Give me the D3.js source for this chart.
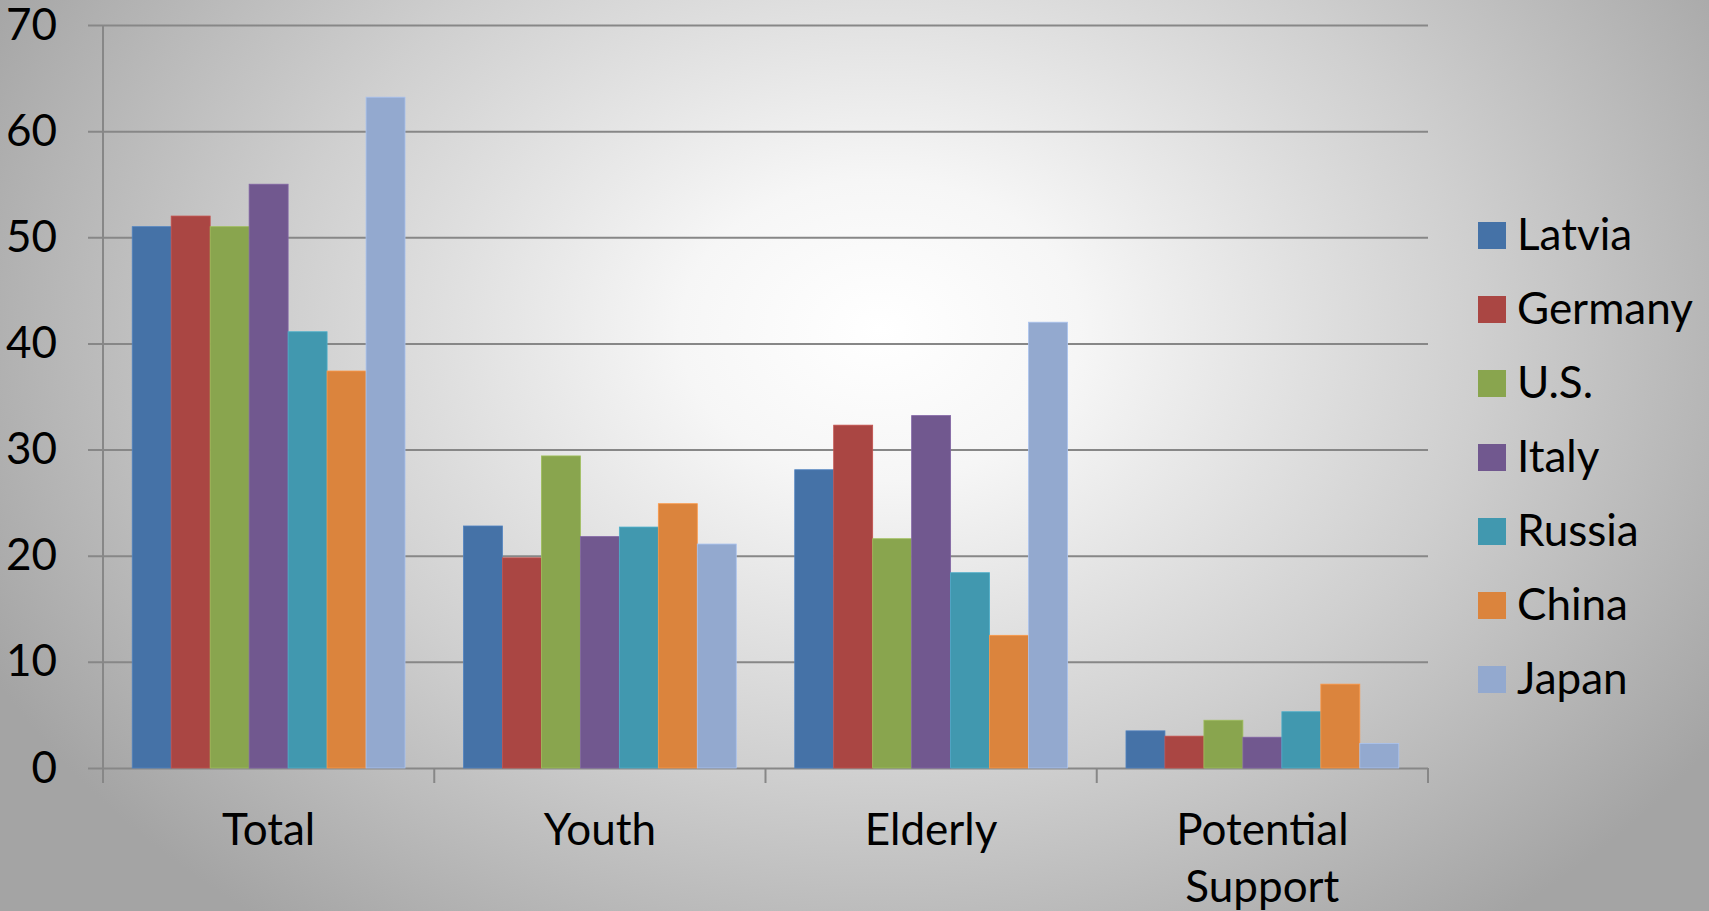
<!DOCTYPE html>
<html>
<head>
<meta charset="utf-8">
<script src="https://cdn.jsdelivr.net/npm/d3@7"></script>
<style>
  html, body { margin: 0; padding: 0; overflow: hidden; }
  text { font-family: Lato, "Open Sans", sans-serif; fill: #000; }
</style>
</head>
<body>
<div id="CHART"></div>
<script>
// values
var categories = ["Total", "Youth", "Elderly", "Potential Support"];
var countries = ["Latvia", "Germany", "U.S.", "Italy", "Russia", "China", "Japan"];
var latvia  = [51.0, 22.8, 28.1, 3.5];
var germany = [52.0, 19.8, 32.3, 3.0];
var us      = [51.0, 29.4, 21.6, 4.5];
var italy   = [55.0, 21.8, 33.2, 2.9];
var russia  = [41.1, 22.7, 18.4, 5.3];
var china   = [37.4, 24.9, 12.5, 7.9];
var japan   = [63.2, 21.1, 42.0, 2.3];
var yTicks  = [0, 10, 20, 30, 40, 50, 60, 70];

var series = [latvia, germany, us, italy, russia, china, japan];
var colors = ["#4572A7", "#AA4643", "#89A54E", "#71588F", "#4198AF", "#DB843D", "#93A9CF"];

var WIDTH = 1709, HEIGHT = 911;
var MARGIN = {LEFT: 103, RIGHT: 281, TOP: 25, BOTTOM: 143};

var svg = d3.select("#CHART")
    .append("svg")
    .attr("width", WIDTH)
    .attr("height", HEIGHT);

// background: soft radial glow, grey towards the edges
var defs = svg.append("defs");
var grad = defs.append("radialGradient")
    .attr("id", "bg")
    .attr("gradientUnits", "userSpaceOnUse")
    .attr("cx", 880).attr("cy", 330).attr("r", 1000)
    .attr("gradientTransform", "translate(880,330) scale(1,0.75) translate(-880,-330)");
grad.append("stop").attr("offset", "0").attr("stop-color", "#ffffff");
grad.append("stop").attr("offset", "0.2").attr("stop-color", "#f6f6f6");
grad.append("stop").attr("offset", "0.6").attr("stop-color", "#cfcfcf");
grad.append("stop").attr("offset", "1").attr("stop-color", "#a4a4a4");

svg.append("rect")
    .attr("width", WIDTH)
    .attr("height", HEIGHT)
    .attr("fill", "url(#bg)");

var plotW = WIDTH - MARGIN.LEFT - MARGIN.RIGHT;
var plotH = HEIGHT - MARGIN.TOP - MARGIN.BOTTOM;

var x0 = d3.scaleBand()
    .domain(categories)
    .range([MARGIN.LEFT, MARGIN.LEFT + plotW]);

var x1 = d3.scaleBand()
    .domain(countries)
    .range([0, x0.bandwidth()])
    .paddingInner(0)
    .paddingOuter(0.75);

var y = d3.scaleLinear()
    .domain([0, 70])
    .range([MARGIN.TOP + plotH, MARGIN.TOP]);

var axisColor = "#878787";

// gridlines + y labels (ticks reach 15px left of the axis)
var yAxis = svg.append("g")
    .attr("transform", "translate(" + (MARGIN.LEFT + plotW) + ",0)")
    .call(d3.axisLeft(y).tickValues(yTicks).tickSize(plotW + 15).tickPadding(31));
yAxis.select(".domain").remove();
yAxis.selectAll("line").attr("stroke", axisColor).attr("stroke-width", 2);
yAxis.selectAll("text")
    .style("font-family", "Lato, sans-serif")
    .style("font-size", "44px")
    .attr("fill", "#000");

// bars
var groups = svg.selectAll("g.cat")
    .data(categories)
    .enter()
    .append("g")
    .attr("class", "cat")
    .attr("transform", function(d) { return "translate(" + x0(d) + ",0)"; });

groups.selectAll("rect")
    .data(function(d, i) {
        return countries.map(function(c, j) { return {country: c, value: series[j][i], color: colors[j]}; });
    })
    .enter()
    .append("rect")
    .attr("x", function(d) { return x1(d.country); })
    .attr("y", function(d) { return y(d.value); })
    .attr("width", x1.bandwidth())
    .attr("height", function(d) { return y(0) - y(d.value); })
    .attr("fill", function(d) { return d.color; })
    .attr("stroke", function(d) { return d3.color(d.color).brighter(0.4); })
    .attr("stroke-width", 0.8);

// y axis line, running down to the x tick length
svg.append("line")
    .attr("x1", MARGIN.LEFT).attr("x2", MARGIN.LEFT)
    .attr("y1", y(70)).attr("y2", y(0) + 15)
    .attr("stroke", axisColor).attr("stroke-width", 2);

// x axis ticks at category boundaries
var bounds = categories.map(function(c) { return x0(c); }).concat([x0.range()[1]]);
svg.selectAll("line.xtick")
    .data(bounds)
    .enter()
    .append("line")
    .attr("class", "xtick")
    .attr("x1", function(d) { return d; }).attr("x2", function(d) { return d; })
    .attr("y1", y(0)).attr("y2", y(0) + 15)
    .attr("stroke", axisColor).attr("stroke-width", 2);

// category labels (wrapped on spaces where needed)
var catLabels = svg.selectAll("text.cat")
    .data(categories)
    .enter()
    .append("text")
    .attr("class", "cat")
    .attr("text-anchor", "middle")
    .style("font-size", "44px")
    .attr("x", function(d) { return x0(d) + x0.bandwidth() / 2; })
    .attr("y", y(0) + 77);

catLabels.each(function(d) {
    var words = d.split(" ");
    var t = d3.select(this);
    words.forEach(function(w, i) {
        t.append("tspan")
            .attr("x", x0(d) + x0.bandwidth() / 2)
            .attr("dy", i === 0 ? 0 : 57)
            .text(w);
    });
});

// legend
var legend = svg.append("g")
    .attr("transform", "translate(1478,222)");

var items = legend.selectAll("g")
    .data(countries)
    .enter()
    .append("g")
    .attr("transform", function(d, i) { return "translate(0," + (i * 74) + ")"; });

items.append("rect")
    .attr("width", 28)
    .attr("height", 27)
    .attr("fill", function(d, i) { return colors[i]; });

items.append("text")
    .attr("x", 39)
    .attr("y", 28)
    .style("font-size", "44px")
    .text(function(d) { return d; });
</script>
</body>
</html>
